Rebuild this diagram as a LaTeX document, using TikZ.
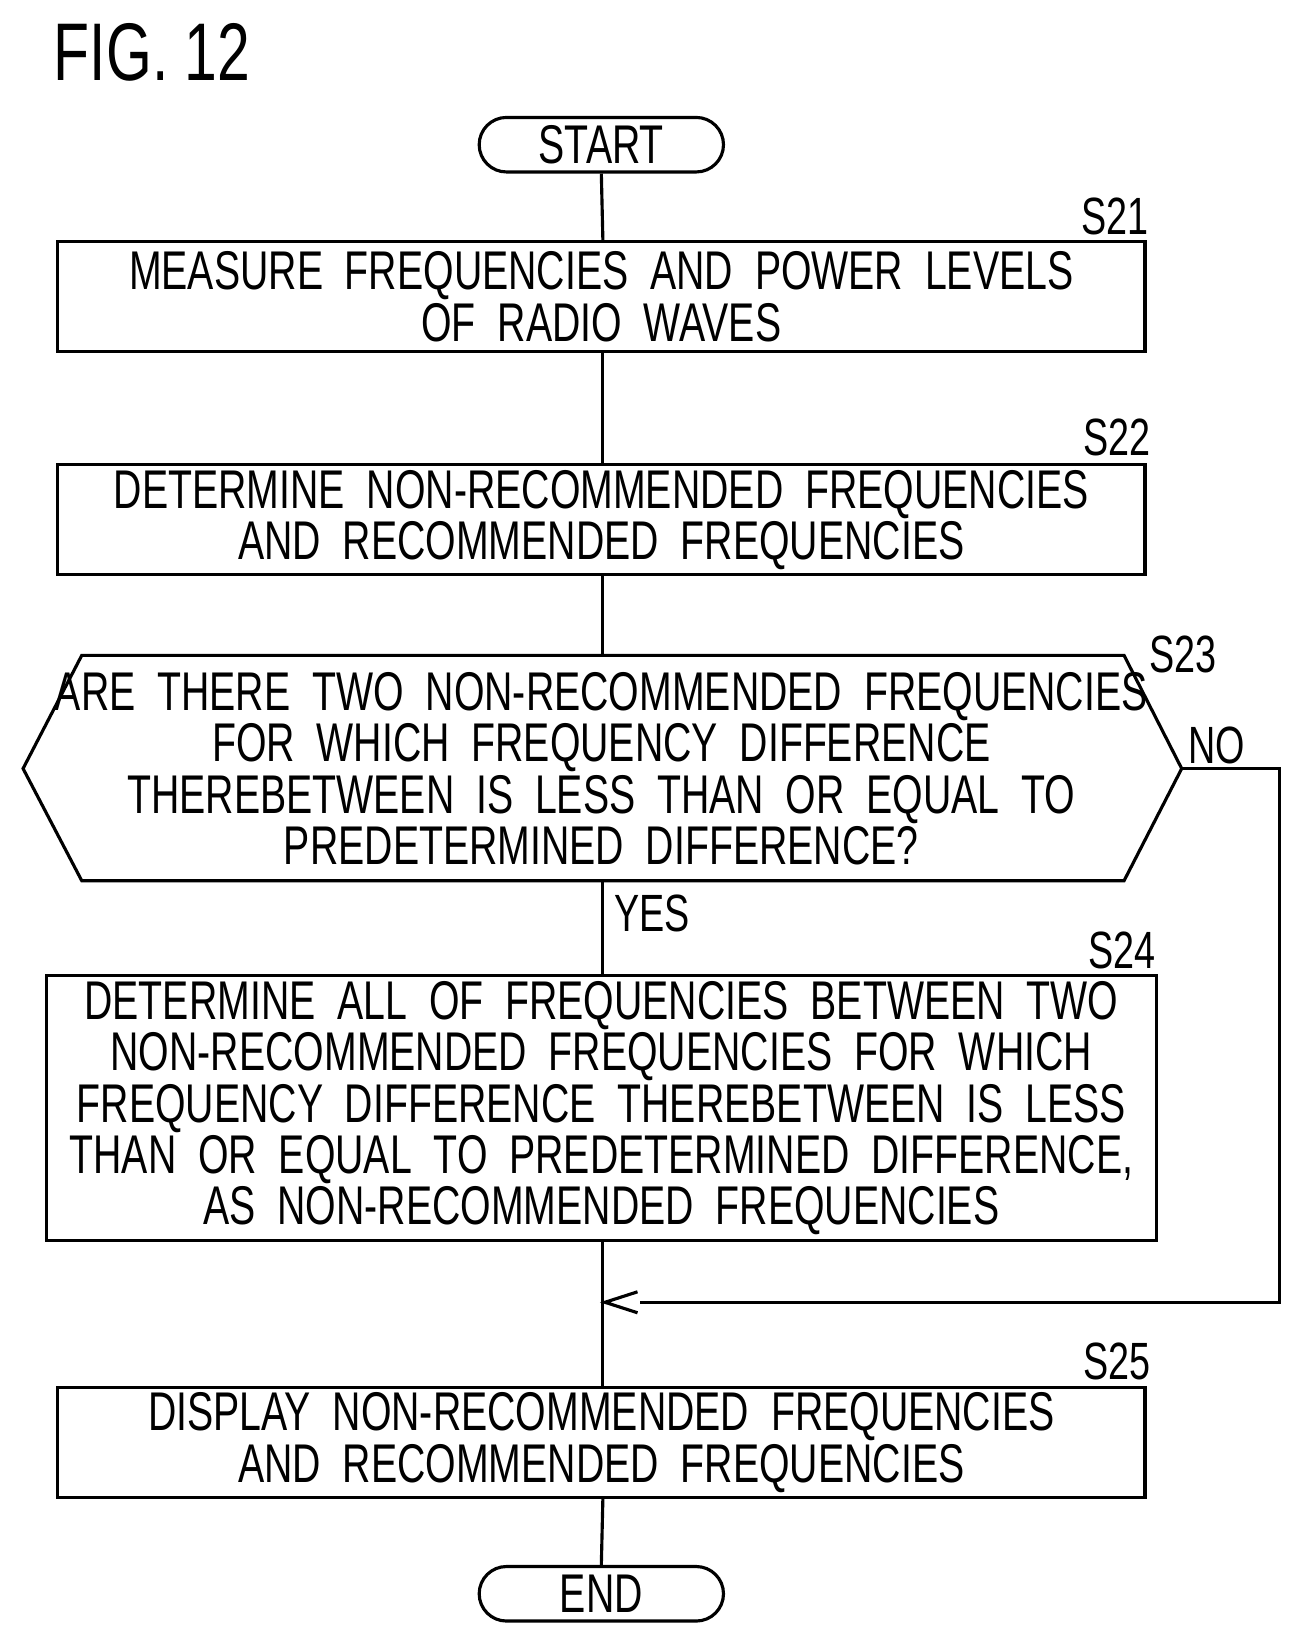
\documentclass[tikz,border=0pt]{standalone}
\usepackage{fontspec}
\setmainfont{Liberation Sans}[FakeStretch=0.72]
\begin{document}
\begin{tikzpicture}[x=1pt,y=-1pt,line width=3pt,
  txt/.style={font=\fontsize{52}{49}\selectfont,align=center,inner sep=0pt},
  lbl/.style={font=\fontsize{50}{50}\selectfont,inner sep=0pt},
  term/.style={draw,rounded corners=26pt,minimum width=233pt,minimum height=52pt,txt},
  arr/.style={-{Latex[length=28pt,width=16pt,open]}}]
\useasboundingbox (0,0) rectangle (1240,1566);
\node[anchor=west,font=\fontsize{78}{78}\selectfont,inner sep=0pt] (fig) at (50,50) {FIG. 12};
\node[term] (start) at (573.5,138) {START};
\draw (55,230) rectangle (1092,335); \node (s21) at (573.5,282.5) {};
\node[txt] at (573.5,283) {MEASURE\ \ FREQUENCIES\ \ AND\ \ POWER\ \ LEVELS\\OF\ \ RADIO\ \ WAVES};
\node[lbl] at (1063,206) {S21};
\draw (55,443) rectangle (1092,548);
\node[txt] (s22) at (573.5,496) {DETERMINE\ \ NON-RECOMMENDED\ \ FREQUENCIES\\AND\ \ RECOMMENDED\ \ FREQUENCIES};
\node[lbl] at (1065,417) {S22};
\coordinate (hl) at (22,733); \coordinate (hr) at (1127,733);
\draw (hl) -- (78,625) -- (1072,625) -- (hr) -- (1072,840) -- (78,840) -- cycle;
\node[txt] (s23) at (573.5,733) {ARE\ \ THERE\ \ TWO\ \ NON-RECOMMENDED\ \ FREQUENCIES\\FOR\ \ WHICH\ \ FREQUENCY\ \ DIFFERENCE\\THEREBETWEEN\ \ IS\ \ LESS\ \ THAN\ \ OR\ \ EQUAL\ \ TO\\PREDETERMINED\ \ DIFFERENCE?};
\node[lbl] at (1128,624) {S23};
\node[lbl] at (1160,711) {NO};
\node[lbl] at (622,871) {YES};
\draw (44,930) rectangle (1103,1183);
\node[txt] (s24) at (573.5,1057) {DETERMINE\ \ ALL\ \ OF\ \ FREQUENCIES\ \ BETWEEN\ \ TWO\\NON-RECOMMENDED\ \ FREQUENCIES\ \ FOR\ \ WHICH\\FREQUENCY\ \ DIFFERENCE\ \ THEREBETWEEN\ \ IS\ \ LESS\\THAN\ \ OR\ \ EQUAL\ \ TO\ \ PREDETERMINED\ \ DIFFERENCE,\\AS\ \ NON-RECOMMENDED\ \ FREQUENCIES};
\node[lbl] at (1070,906) {S24};
\draw (55,1323) rectangle (1092,1428);
\node[txt] (s25) at (573.5,1376) {DISPLAY\ \ NON-RECOMMENDED\ \ FREQUENCIES\\AND\ \ RECOMMENDED\ \ FREQUENCIES};
\node[lbl] at (1065,1298) {S25};
\node[term] (end) at (573.5,1520) {END};
\coordinate (j) at (575,1242);
\draw (start.south) -- (575,230);
\draw (575,335) -- (575,443);
\draw (575,548) -- (575,625);
\draw (575,840) -- (575,930);
\draw (575,1183) -- (575,1323);
\draw (575,1428) -- (end.north);
\draw (hr) -- (1220,733) -- (1220,1242) -- (610,1242);
\draw[line width=3pt] (608,1232) -- (577,1242) -- (608,1252);
\end{tikzpicture}
\end{document}
